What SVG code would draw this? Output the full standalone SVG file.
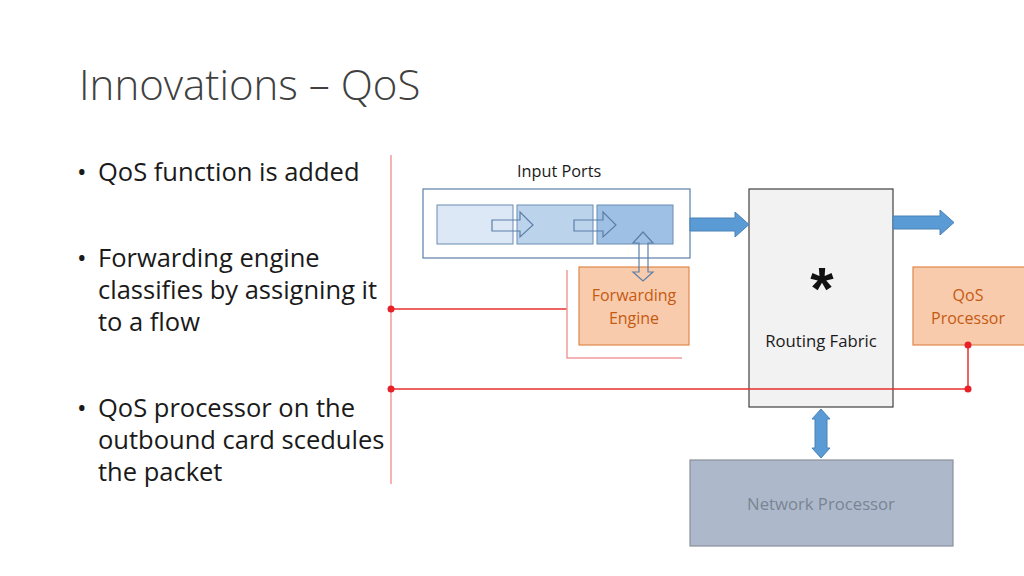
<svg xmlns="http://www.w3.org/2000/svg" width="1024" height="576" viewBox="0 0 1024 576">
<style>
text{font-family:"Open Sans","Liberation Sans",sans-serif}
.title{font-size:42px;fill:#404040;font-weight:300}
.bul{font-size:25.5px;fill:#1a1a1a}
.lbl{font-size:16.3px;fill:#1a1a1a}
.org{font-size:16px;fill:#c55a11;text-anchor:middle}
.obox{fill:#f8cbad;stroke:#e0874a;stroke-width:1.2}
.q{fill-opacity:1;stroke:#6a8cb5;stroke-width:1}
.hol{fill:none;stroke:#5b7fa8;stroke-width:1.2}
.blue{fill:#5b9bd5;stroke:#4a82b8;stroke-width:1}
.rl{stroke:#f29a9a;stroke-width:1.5;fill:none}
.rd{stroke:#e8302f;stroke-width:1.5;fill:none}
.dot{fill:#e8202a}
</style>
<rect width="1024" height="576" fill="#fff"/>
<text class="title" x="79" y="100">Innovations – QoS</text>
<g id="bullets">
<text class="bul" x="77" y="181">•</text><text class="bul" x="98" y="181">QoS function is added</text>
<text class="bul" x="77" y="267">•</text><text class="bul" x="98" y="267">Forwarding engine</text>
<text class="bul" x="98" y="299">classifies by assigning it</text>
<text class="bul" x="98" y="331">to a flow</text>
<text class="bul" x="77" y="417">•</text><text class="bul" x="98" y="417">QoS processor on the</text>
<text class="bul" x="98" y="449">outbound card scedules</text>
<text class="bul" x="98" y="481">the packet</text>
</g>
<g id="input-ports">
<text class="lbl" x="517" y="177">Input Ports</text>
<rect x="423" y="189" width="267" height="69" fill="#fff" stroke="#5b7fa8" stroke-width="1.2"/>
<rect class="q" x="437" y="205" width="76" height="39" fill="#dce8f5"/>
<rect class="q" x="517" y="205" width="76" height="39" fill="#bcd3ec"/>
<rect class="q" x="597" y="205" width="76" height="39" fill="#9dc0e4"/>
<path class="hol" d="M492 220H520V212L533 225L520 237V231H492Z"/>
<path class="hol" d="M574 220H603V212L616 225L603 237V231H574Z"/>
</g>
<g id="forwarding-engine">
<rect class="obox" x="579" y="267" width="110" height="78"/>
<text class="org" x="634" y="301">Forwarding</text>
<text class="org" x="634" y="324">Engine</text>
</g>
<g id="routing-fabric">
<rect x="749" y="189" width="144" height="218" fill="#f2f2f2" stroke="#404040" stroke-width="1.2"/>
<text x="822" y="309" font-size="60" font-weight="bold" text-anchor="middle" fill="#111" style="font-family:'Liberation Sans',sans-serif">*</text>
<text x="821" y="347" font-size="16.7" text-anchor="middle" fill="#1a1a1a">Routing Fabric</text>
</g>
<g id="qos-processor">
<rect class="obox" x="913" y="267" width="112" height="78"/>
<text class="org" x="968" y="301">QoS</text>
<text class="org" x="968" y="324">Processor</text>
</g>
<g id="network-processor">
<rect x="690" y="460" width="263" height="86" fill="#adb9ca" stroke="#8a8f99" stroke-width="1.2"/>
<text x="821" y="510" font-size="16.7" text-anchor="middle" fill="#7a8494">Network Processor</text>
</g>
<g id="connectors">
<path class="rl" d="M391 155V484"/>
<path class="rd" d="M391 309H567"/>
<path class="rl" d="M567 270V358H682"/>
<path class="rd" d="M391 389H968V345"/>
<circle class="dot" cx="391" cy="309" r="3.5"/>
<circle class="dot" cx="391" cy="389" r="3.5"/>
<circle class="dot" cx="968" cy="389" r="3.5"/>
<circle class="dot" cx="968" cy="345" r="3.5"/>
<path class="blue" d="M690 218H735V212L749 224.5L735 237V231H690Z"/>
<path class="blue" d="M893 216H940V210L954 222.5L940 235V229H893Z"/>
<path class="blue" d="M821 409L830 419H827V448H830L821 458L812 448H815V419H812Z"/>
<path class="hol" d="M643 232L653 243H648V272H653L643 281L633 272H639V243H633Z"/>
</g>
</svg>
